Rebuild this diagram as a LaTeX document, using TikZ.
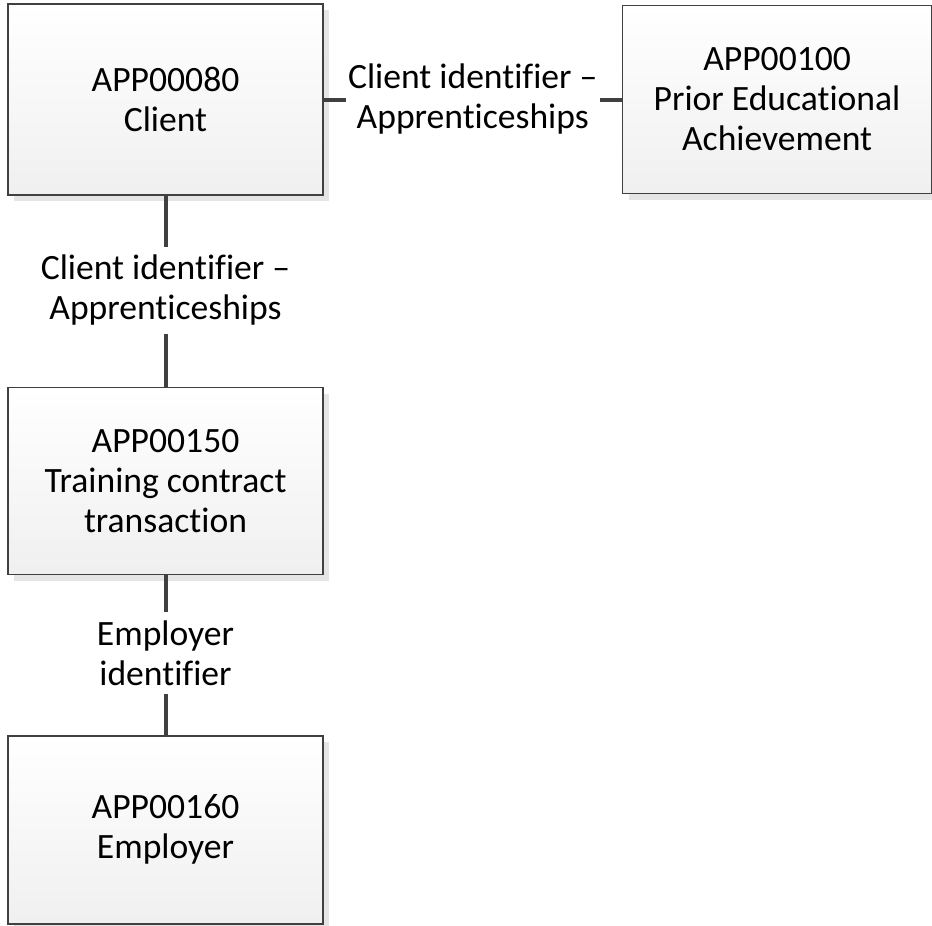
\documentclass[tikz,border=0pt]{standalone}
\usepackage{fontspec}
\setmainfont{Carlito}[Ligatures=CommonOff]
\usetikzlibrary{positioning,shadows}
\definecolor{linegray}{HTML}{404040}
\newcommand{\entityfont}{\fontsize{17.8pt}{20pt}\selectfont}
\tikzset{
    %Define style for entity boxes
    entity/.style={
           rectangle,
           draw=linegray, line width=0.7pt,
           top color=white, bottom color=black!6,
           minimum width=157.5pt,
           minimum height=94pt,
           font=\entityfont,
           align=center,
           drop shadow={shadow xshift=3pt, shadow yshift=-3pt, fill=black!10, opacity=1}},
    %Define style for relation names
    relname/.style={
           align=center,
           inner xsep=1pt, inner ysep=4pt,
           font=\entityfont},
    % Define connector style
    link/.style={
           draw=linegray,
           line width=2pt}
}
\begin{document}
\begin{tikzpicture}
\useasboundingbox (0,0) rectangle (466pt,-463pt);
\node[entity, minimum height=95.5pt] (client) at (82.75pt,-49.75pt) {APP00080\\Client};
\node[relname, right=11pt of client] (cliprior) {Client identifier --\\Apprenticeships};
\node[entity, minimum width=154.5pt, right=11pt of cliprior] (prior) {APP00100\\Prior Educational\\Achievement};
\node[relname, below=25.5pt of client] (clitrain) {Client identifier --\\Apprenticeships};
\node[entity, minimum height=93.5pt, below=26.5pt of clitrain] (train) {APP00150\\Training contract\\transaction};
\node[relname, below=18.5pt of train] (emptrain) {Employer\\identifier};
\node[entity, below=20.5pt of emptrain] (employer) {APP00160\\Employer};
\path[link]
	(client) edge (cliprior)
	(cliprior) edge (prior)
	(client) edge (clitrain)
	(clitrain) edge (train)
	(train) edge (emptrain)
	(emptrain) edge (employer);
\end{tikzpicture}
\end{document}
